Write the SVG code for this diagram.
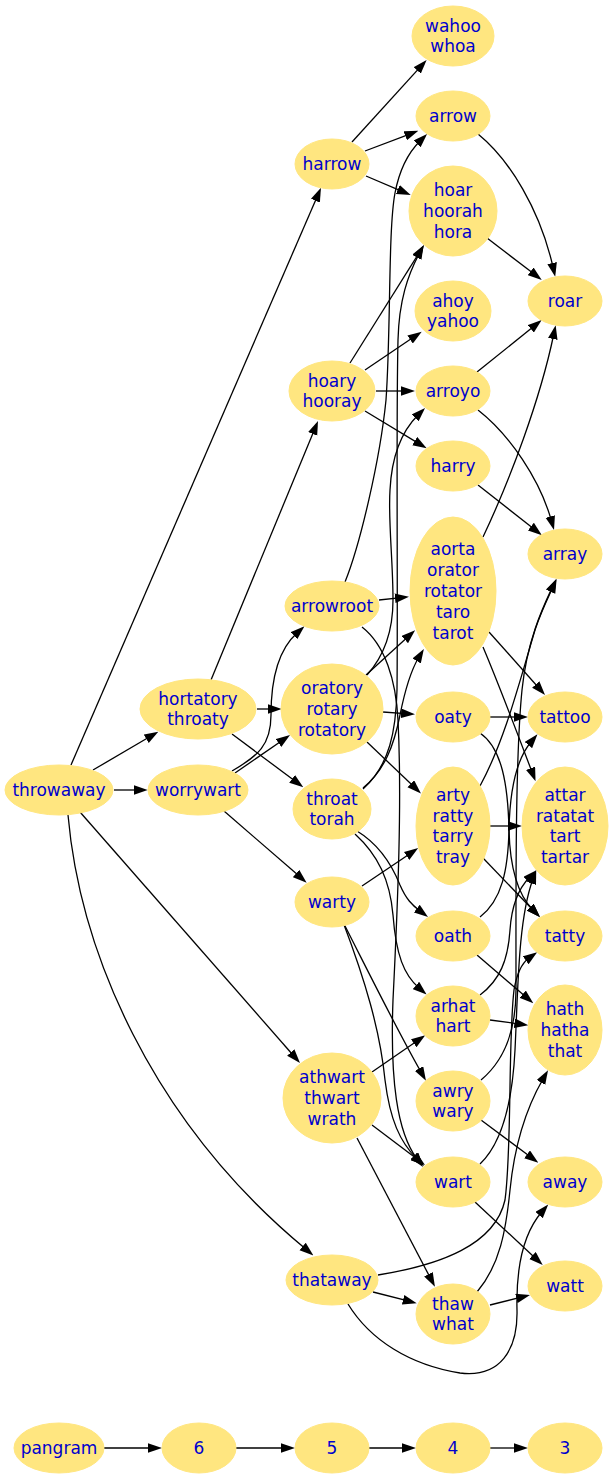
<svg xmlns="http://www.w3.org/2000/svg" width="614" height="1479" viewBox="0 0 614 1479">
<style>
.node ellipse{fill:#ffe680;stroke:#ffe680;stroke-width:1}
.node text{font-family:"DejaVu Sans",Verdana,sans-serif;font-size:17px;fill:#0000cd;text-anchor:middle}
.edges path{fill:none;stroke:#000;stroke-width:1.3;marker-end:url(#ah)}
</style>
<defs>
<marker id="ah" markerWidth="14" markerHeight="10" refX="4" refY="4.85" orient="auto" markerUnits="userSpaceOnUse"><path d="M0,0 L14,4.85 L0,9.7 z" fill="#000" stroke="none"/></marker>
</defs>
<rect width="614" height="1479" fill="#fff"/>
<g class="edges">
<path d="M71,765 L317,197"/>
<path d="M93,770 L149.7,736.8"/>
<path d="M114,790 L137.7,790"/>
<path d="M80,812 L293.4,1055.5"/>
<path d="M68,815 C80,950 150,1120 305.7,1249"/>
<path d="M211,680 L314.2,430.2"/>
<path d="M257,709 L271.7,709"/>
<path d="M232,734 L295.3,781.3"/>
<path d="M232,771 C258,756 271,745 271,715 C271,680 278,650 297,633"/>
<path d="M235,773 L281.8,740.7"/>
<path d="M224,811 L299.1,876.1"/>
<path d="M352,142 L419.9,67.4"/>
<path d="M365,151 L409,134.3"/>
<path d="M366,176 L401.5,191.1"/>
<path d="M350,363 L418.7,253.5"/>
<path d="M365,370 L413.4,337.3"/>
<path d="M376,391 L405,391"/>
<path d="M365,411 L418.1,443.1"/>
<path d="M345,582 C360,545 380,460 386,400 C391,330 388,230 395,193 C399,172 408,153 420,141"/>
<path d="M379,600 L399,597.8"/>
<path d="M362,627 C385,645 396,680 398,720 C402,800 398,900 393,1000 C390,1080 397,1132 417,1159"/>
<path d="M367,675 C385,655 393,630 393,600 C393,560 388,520 390,490 C392,450 405,428 418,415"/>
<path d="M366,675 L407.7,636.9"/>
<path d="M383,712 L405,713.6"/>
<path d="M367,742 L413.7,786.5"/>
<path d="M363,789 C390,765 396,730 397,690 C398,600 396,420 398,340 C399,300 408,275 419,254"/>
<path d="M363,788 C385,770 394,745 400,715 C405,690 410,672 418.7,657.5"/>
<path d="M357,831 C380,845 392,865 400,885 C406,899 412,905 420,911"/>
<path d="M355,834 C378,855 390,880 393,915 C396,955 404,975 419,988"/>
<path d="M362,886 L409.9,853.7"/>
<path d="M343,922 C370,975 396,1028 421,1072"/>
<path d="M343,922 C365,980 380,1030 385,1080 C390,1120 400,1142 417,1159"/>
<path d="M372,1072 L417,1041"/>
<path d="M372,1125 L417,1159"/>
<path d="M357,1138 L430.3,1277.9"/>
<path d="M373,1292 L407,1300.7"/>
<path d="M378,1275 C440,1265 495,1245 505,1200 C512,1150 508,1040 514,990 C517,972 522,963 529,958"/>
<path d="M348,1304 C370,1340 410,1365 460,1373 C500,1378 518,1350 517,1310 C516,1270 522,1235 541.7,1212"/>
<path d="M478,134 C510,160 540,210 553,267"/>
<path d="M487,238 L533.8,273.8"/>
<path d="M477,372 L533.9,326.3"/>
<path d="M483,537 C510,480 540,400 553.6,335"/>
<path d="M478,410 C510,435 540,480 551.3,520.4"/>
<path d="M478,485 L534,529"/>
<path d="M489,632 L538.4,687.5"/>
<path d="M483,647 C497,680 518,735 532,772"/>
<path d="M490,717 L518,717"/>
<path d="M480,733 C502,748 508,785 509,830 C510,870 518,895 533,910"/>
<path d="M480,786 C505,740 520,680 535,630 C541,612 547,600 552.5,588"/>
<path d="M490,826 L512,826"/>
<path d="M483,858 L533,910"/>
<path d="M480,917 C502,900 508,870 509,830 C510,780 520,755 531,742"/>
<path d="M477,955 L525.7,996.8"/>
<path d="M480,995 C500,980 508,960 510,930 C512,900 522,885 529.5,877.3"/>
<path d="M490,1020 L518.4,1023.8"/>
<path d="M481,1080 C505,1060 516,1030 516,990 C516,900 515,760 522,690 C527,640 544,605 552,588"/>
<path d="M481,1120 L530.3,1156.7"/>
<path d="M480,1164 C500,1145 512,1110 515,1050 C518,990 518,920 532.8,879.5"/>
<path d="M475,1202 L535.4,1258.2"/>
<path d="M477,1292 C500,1265 506,1230 510,1190 C515,1140 528,1105 543,1079"/>
<path d="M490,1305 L520.3,1297.4"/>
<path d="M104,1448 L152,1448"/>
<path d="M236,1448 L285,1448"/>
<path d="M369,1448 L406,1448"/>
<path d="M490,1448 L518,1448"/>
</g>
<g id="throwaway" class="node"><ellipse cx="59" cy="790" rx="54" ry="25"/><text x="59" y="796">throwaway</text></g>
<g id="hortatory" class="node"><ellipse cx="198" cy="709" rx="58" ry="30"/><text x="198" y="704.6">hortatory</text><text x="198" y="725.4">throaty</text></g>
<g id="worrywart" class="node"><ellipse cx="198" cy="790" rx="50" ry="25"/><text x="198" y="796">worrywart</text></g>
<g id="harrow" class="node"><ellipse cx="332" cy="164" rx="37" ry="25"/><text x="332" y="170">harrow</text></g>
<g id="hoary" class="node"><ellipse cx="332" cy="391" rx="43" ry="30"/><text x="332" y="386.6">hoary</text><text x="332" y="407.4">hooray</text></g>
<g id="arrowroot" class="node"><ellipse cx="332" cy="606" rx="47" ry="25"/><text x="332" y="612">arrowroot</text></g>
<g id="oratory" class="node"><ellipse cx="332" cy="709" rx="51" ry="45"/><text x="332" y="694.2">oratory</text><text x="332" y="715">rotary</text><text x="332" y="735.8">rotatory</text></g>
<g id="throat" class="node"><ellipse cx="332" cy="809" rx="39" ry="30"/><text x="332" y="804.6">throat</text><text x="332" y="825.4">torah</text></g>
<g id="warty" class="node"><ellipse cx="332" cy="902" rx="37" ry="25"/><text x="332" y="908">warty</text></g>
<g id="athwart" class="node"><ellipse cx="332" cy="1098" rx="49" ry="45"/><text x="332" y="1083.2">athwart</text><text x="332" y="1104">thwart</text><text x="332" y="1124.8">wrath</text></g>
<g id="thataway" class="node"><ellipse cx="332" cy="1280" rx="46" ry="25"/><text x="332" y="1286">thataway</text></g>
<g id="wahoo" class="node"><ellipse cx="453" cy="36" rx="41" ry="30"/><text x="453" y="31.6">wahoo</text><text x="453" y="52.4">whoa</text></g>
<g id="arrow" class="node"><ellipse cx="453" cy="116" rx="37" ry="25"/><text x="453" y="122">arrow</text></g>
<g id="hoar" class="node"><ellipse cx="453" cy="211" rx="44" ry="45"/><text x="453" y="196.2">hoar</text><text x="453" y="217">hoorah</text><text x="453" y="237.8">hora</text></g>
<g id="ahoy" class="node"><ellipse cx="453" cy="311" rx="38" ry="30"/><text x="453" y="306.6">ahoy</text><text x="453" y="327.4">yahoo</text></g>
<g id="arroyo" class="node"><ellipse cx="453" cy="391" rx="37" ry="25"/><text x="453" y="397">arroyo</text></g>
<g id="harry" class="node"><ellipse cx="453" cy="466" rx="37" ry="25"/><text x="453" y="472">harry</text></g>
<g id="aorta" class="node"><ellipse cx="453" cy="591" rx="43" ry="74"/><text x="453" y="555.4">aorta</text><text x="453" y="576.2">orator</text><text x="453" y="597">rotator</text><text x="453" y="617.8">taro</text><text x="453" y="638.6">tarot</text></g>
<g id="oaty" class="node"><ellipse cx="453" cy="717" rx="37" ry="25"/><text x="453" y="723">oaty</text></g>
<g id="arty" class="node"><ellipse cx="453" cy="826" rx="37" ry="59"/><text x="453" y="800.8">arty</text><text x="453" y="821.6">ratty</text><text x="453" y="842.4">tarry</text><text x="453" y="863.2">tray</text></g>
<g id="oath" class="node"><ellipse cx="453" cy="936" rx="37" ry="25"/><text x="453" y="942">oath</text></g>
<g id="arhat" class="node"><ellipse cx="453" cy="1016" rx="37" ry="30"/><text x="453" y="1011.6">arhat</text><text x="453" y="1032.4">hart</text></g>
<g id="awry" class="node"><ellipse cx="453" cy="1101" rx="37" ry="30"/><text x="453" y="1096.6">awry</text><text x="453" y="1117.4">wary</text></g>
<g id="wart" class="node"><ellipse cx="453" cy="1182" rx="37" ry="25"/><text x="453" y="1188">wart</text></g>
<g id="thaw" class="node"><ellipse cx="453" cy="1314" rx="37" ry="30"/><text x="453" y="1309.6">thaw</text><text x="453" y="1330.4">what</text></g>
<g id="roar" class="node"><ellipse cx="565" cy="301" rx="37" ry="25"/><text x="565" y="307">roar</text></g>
<g id="array" class="node"><ellipse cx="565" cy="554" rx="37" ry="25"/><text x="565" y="560">array</text></g>
<g id="tattoo" class="node"><ellipse cx="565" cy="717" rx="37" ry="25"/><text x="565" y="723">tattoo</text></g>
<g id="attar" class="node"><ellipse cx="565" cy="826" rx="43" ry="59"/><text x="565" y="800.8">attar</text><text x="565" y="821.6">ratatat</text><text x="565" y="842.4">tart</text><text x="565" y="863.2">tartar</text></g>
<g id="tatty" class="node"><ellipse cx="565" cy="936" rx="37" ry="25"/><text x="565" y="942">tatty</text></g>
<g id="hath" class="node"><ellipse cx="565" cy="1030" rx="37" ry="45"/><text x="565" y="1015.2">hath</text><text x="565" y="1036">hatha</text><text x="565" y="1056.8">that</text></g>
<g id="away" class="node"><ellipse cx="565" cy="1182" rx="37" ry="25"/><text x="565" y="1188">away</text></g>
<g id="watt" class="node"><ellipse cx="565" cy="1286" rx="37" ry="25"/><text x="565" y="1292">watt</text></g>
<g id="pangram" class="node"><ellipse cx="59" cy="1448" rx="45" ry="25"/><text x="59" y="1454">pangram</text></g>
<g id="r6" class="node"><ellipse cx="199" cy="1448" rx="37" ry="25"/><text x="199" y="1454">6</text></g>
<g id="r5" class="node"><ellipse cx="332" cy="1448" rx="37" ry="25"/><text x="332" y="1454">5</text></g>
<g id="r4" class="node"><ellipse cx="453" cy="1448" rx="37" ry="25"/><text x="453" y="1454">4</text></g>
<g id="r3" class="node"><ellipse cx="565" cy="1448" rx="37" ry="25"/><text x="565" y="1454">3</text></g>
</svg>
